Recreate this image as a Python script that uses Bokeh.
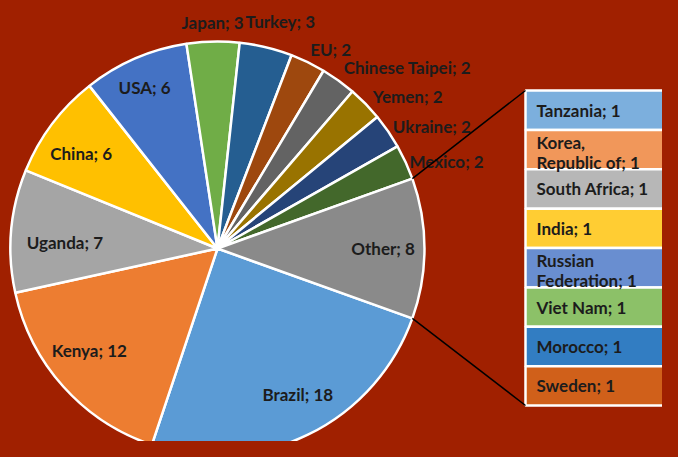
import numpy as np
from bokeh.plotting import figure
from bokeh.models import Range1d, ColumnDataSource
from bokeh.core.properties import value
from bokeh.embed import file_html
from bokeh.resources import INLINE

# ---- data ----
pie_labels = ["Brazil", "Kenya", "Uganda", "China", "USA", "Japan", "Turkey", "EU",
              "Chinese Taipei", "Yemen", "Ukraine", "Mexico", "Other"]
pie_values = [18, 12, 7, 6, 6, 3, 3, 2, 2, 2, 2, 2, 8]
pie_colors = ["#5B9BD5", "#ED7D31", "#A5A5A5", "#FFC000", "#4472C4", "#70AD47", "#255E91",
              "#9E480E", "#636363", "#997300", "#264478", "#43682B", "#8A8A8A"]

bar_labels = ["Tanzania", "Korea,\nRepublic of", "South Africa", "India",
              "Russian\nFederation", "Viet Nam", "Morocco", "Sweden"]
bar_values = [1, 1, 1, 1, 1, 1, 1, 1]
bar_colors = ["#7CAFDD", "#F1975A", "#B7B7B7", "#FFCD33", "#698ED0", "#8CC168", "#327DC2", "#D0601A"]

# ---- styles / geometry ----
BG = "#A02000"
TXT = "#1C1C1C"
FONT = value("Lato")
FS = "17px"
W, H = 662, 441
cx, cy, R = 217, 457 - 248, 207

p = figure(width=W, height=H, output_backend="svg", toolbar_location=None,
           x_range=Range1d(0, W), y_range=Range1d(457 - H, 457),
           min_border=0, background_fill_color=BG, border_fill_color=BG)
p.axis.visible = False
p.grid.visible = False
p.outline_line_color = None

total = sum(pie_values)
ang = [v / total * 2 * np.pi for v in pie_values]
# Other slice centred on 0 rad, first slice (Brazil) starts right after it, clockwise
start0 = -ang[-1] / 2
starts, ends, mids = [], [], []
a = start0
for da in ang:
    starts.append(a)
    ends.append(a - da)
    mids.append(a - da / 2)
    a -= da

src = ColumnDataSource(dict(start=starts, end=ends, color=pie_colors))
p.wedge(x=cx, y=cy, radius=R, start_angle="start", end_angle="end", direction="clock",
        fill_color="color", line_color="white", line_width=2.5, source=src)

# labels
text = [f"{l}; {v}" for l, v in zip(pie_labels, pie_values)]
# (radius factor, align, dx, dy) per label: style only
lab_style = {
    "Brazil": (0.8, "center", 8, 3), "Kenya": (0.8, "center", -5, 9),
    "Uganda": (0.74, "center", 0, -7), "China": (0.8, "center", -4, -5),
    "USA": (0.85, "center", -3, 0), "Japan": (1.09, "center", 0, 0),
    "Turkey": (1.13, "center", 8, 0), "EU": (1.07, "left", -4, 0),
    "Chinese Taipei": (1.06, "left", -2, 3), "Yemen": (1.05, "left", 0, 0),
    "Ukraine": (1.04, "left", -2, 0), "Mexico": (1.02, "left", 0, -1),
    "Other": (0.8, "center", 0, 0),
}
for name, t, m in zip(pie_labels, text, mids):
    k, al, dx, dy = lab_style[name]
    p.text(x=[cx + k * R * np.cos(m) + dx], y=[cy + k * R * np.sin(m) + dy], text=[t],
           text_align=al, text_baseline="middle", text_font=FONT, text_font_style="bold",
           text_font_size=FS, text_color=TXT)

# bar of pie
bx0, bx1 = 525, 690
btop, bbot = 457 - 90, 457 - 405
scale = (btop - bbot) / sum(bar_values)
cum = np.cumsum([0] + bar_values)
tops = [btop - c * scale for c in cum[:-1]]
bots = [btop - c * scale for c in cum[1:]]
p.quad(left=bx0, right=bx1, top=tops, bottom=bots, fill_color=bar_colors,
       line_color="white", line_width=2.5)
for t, v, tp, bt in zip(bar_labels, bar_values, tops, bots):
    multi = "\n" in t
    p.text(x=[bx0 + 11], y=[(tp + bt) / 2 + (-3 if multi else 0)], text=[f"{t}; {v}"],
           text_align="left", text_baseline="middle", text_font=FONT, text_font_style="bold",
           text_font_size=FS, text_color=TXT, text_line_height=0.95)

# connector lines
a_top = starts[0] + ang[-1]   # Mexico/Other boundary
a_bot = starts[0]             # Other/Brazil boundary
p.line(x=[cx + R * np.cos(a_top), bx0], y=[cy + R * np.sin(a_top), btop],
       line_color="black", line_width=1.5)
p.line(x=[cx + R * np.cos(a_bot), bx0], y=[cy + R * np.sin(a_bot), bbot],
       line_color="black", line_width=1.5)

html = file_html(p, INLINE)
html = html.replace("</head>", f"<style>html, body {{ background-color: {BG}; }}</style></head>", 1)
open("out.html", "w").write(html)
